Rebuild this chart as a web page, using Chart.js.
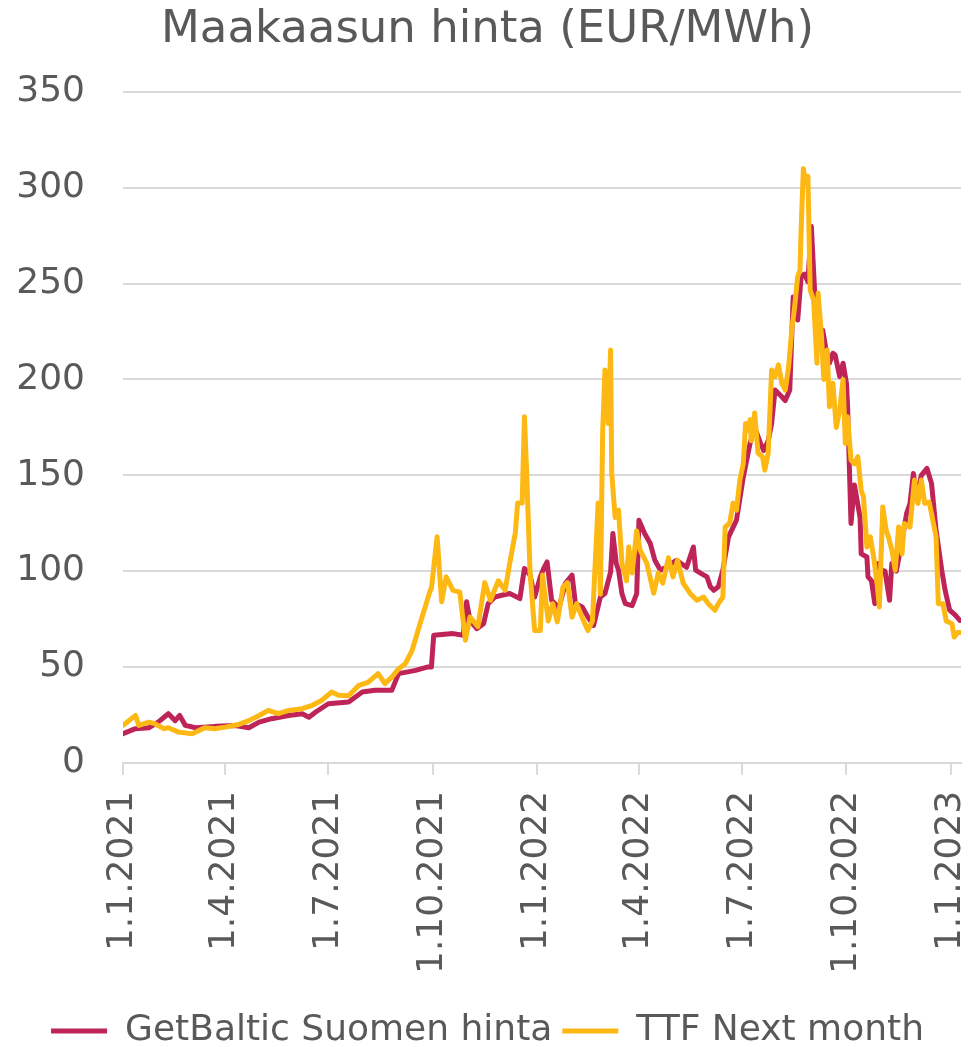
<!DOCTYPE html>
<html>
<head>
<meta charset="utf-8">
<script src="https://cdn.jsdelivr.net/npm/chart.js@4.4.0/dist/chart.umd.min.js"></script>
<style>
  html, body { margin: 0; padding: 0; background: #fff; }
  #wrap { width: 968px; height: 1047px; position: relative; }
</style>
</head>
<body>
<div id="wrap"><canvas id="chart"></canvas></div>
<script>
// x values are days since 1.1.2021
const tickDays = [0, 90, 181, 273, 365, 455, 546, 638, 730]
const tickLabels = ['1.1.2021', '1.4.2021', '1.7.2021', '1.10.2021', '1.1.2022',
  '1.4.2022', '1.7.2022', '1.10.2022', '1.1.2023']

const gbDays = [0, 11, 23, 31, 40, 46, 50, 55, 64, 81, 99, 111, 120, 131, 146, 158, 164, 170, 181, 199,
  211, 222, 237, 243, 258, 269, 272, 274, 291, 300, 303, 306, 312, 318, 322, 328, 334, 341, 350, 354,
  359, 363, 368, 371, 374, 378, 381, 384, 390, 396, 399, 405, 410, 415, 421, 425, 430, 432, 435, 437,
  440, 443, 449, 453, 455, 460, 465, 469, 474, 479, 488, 497, 503, 505, 510, 515, 518, 521, 525, 529,
  534, 541, 547, 553, 557, 562, 565, 569, 572, 575, 581, 584, 588, 591, 595, 598, 601, 604, 607, 610,
  615, 617, 620, 623, 626, 628, 632, 635, 638, 639, 642, 645, 650, 651, 656, 657, 660, 663, 666, 669,
  672, 676, 678, 682, 687, 691, 694, 697, 700, 704, 709, 713, 717, 722, 725, 729, 734, 738]
const gbPrices = [15.2, 17.8, 18.3, 21.2, 25.6, 22, 24.7, 19.5, 18.3, 19, 19.5, 18.3, 21.2, 23, 24.7, 25.6, 23.8, 26.5, 30.8, 31.7,
  36.9, 37.8, 37.8, 46.5, 48.2, 50, 50, 66.5, 67.4, 66.5, 84, 74.3, 70, 72.6, 83, 86.5, 87.4, 88.3, 85.7, 101.4,
  97.9, 86.5, 97, 101.4, 104.8, 84.8, 83, 79.6, 93.5, 97.9, 83, 81.3, 76, 71.7, 86.5, 88.3, 99.6, 119.6, 104, 100.5,
  88.3, 83, 82, 88.3, 126.6, 119.6, 114.4, 105.7, 100.5, 102, 105.7, 102, 112.6, 100.5, 98.7, 97, 91.8, 90, 91.8, 100.5,
  117.9, 126.6, 149, 166.7, 175, 167, 163, 168, 177, 194.5, 191, 189, 194.5, 243, 231, 253.7, 255, 251, 280, 245,
  224, 225.8, 215.4, 208.5, 213.7, 212.8, 201.5, 208.5, 198, 185.8, 124.9, 145, 128, 109, 107.4, 97, 95, 83, 104, 100.5,
  100, 84.8, 104, 100, 116, 130, 135.3, 151, 138.8, 150, 153.6, 145.8, 121.4, 100.5, 90, 79.6, 77, 74.3]

const ttfDays = [0, 11, 14, 23, 28, 36, 40, 49, 61, 67, 72, 81, 90, 102, 111, 120, 128, 137, 146, 158,
  167, 175, 184, 190, 199, 208, 216, 225, 231, 237, 243, 249, 255, 262, 271, 272, 277, 281, 285, 291,
  297, 302, 306, 313, 319, 324, 331, 337, 341, 346, 348, 352, 354, 356, 359, 363, 368, 370, 375, 379,
  383, 388, 392, 396, 400, 406, 410, 414, 419, 421, 423, 425, 428, 430, 431, 434, 437, 440, 444, 446,
  449, 453, 456, 462, 468, 472, 476, 481, 485, 489, 494, 500, 506, 512, 516, 522, 525, 529, 531, 535,
  538, 541, 544, 547, 549, 551, 553, 554, 557, 560, 564, 566, 569, 572, 575, 578, 581, 584, 587, 590,
  592, 595, 597, 598, 600, 602, 604, 605, 606, 609, 612, 613, 616, 618, 621, 623, 626, 629, 632, 635,
  637, 639, 642, 645, 648, 651, 653, 656, 659, 662, 665, 667, 670, 673, 675, 678, 681, 684, 687, 689,
  694, 698, 701, 704, 707, 711, 713, 717, 719, 723, 726, 731, 733, 736, 739]
const ttfPrices = [19.5, 24.7, 19.5, 21.2, 20.4, 17.8, 18.3, 16, 15.2, 16.9, 18.3, 17.8, 18.6, 20, 22, 24.7, 27.3, 25.6, 27.3, 28.2,
  30, 32.5, 36.9, 35.2, 35, 40.4, 42, 46.5, 41.3, 44.7, 49, 51.7, 58.7, 72.7, 90, 91, 117.9, 84, 97, 90,
  89, 64, 76, 71, 94, 84.8, 95, 90, 104, 120, 135.5, 135.5, 180.6, 151, 99, 69, 69, 98, 74, 83,
  73.5, 91.7, 94, 76, 83, 74.3, 69, 74, 135.5, 88, 172.7, 205, 177, 215.4, 151, 128, 131.8, 104, 95, 112.6,
  99, 121, 111, 104, 88.5, 99, 93.7, 107, 97, 105.7, 93.7, 88.5, 84.8, 86.5, 83, 79.6, 83, 86.5, 123, 125,
  135.5, 131.8, 147.5, 156, 177, 173.6, 179, 168, 182.5, 161.6, 159.7, 152.7, 161.6, 205, 201.5, 207.6, 198, 194.5, 206.7, 227.6,
  236.3, 253.7, 257, 278, 310, 302.5, 306, 276, 246.7, 241.5, 208.5, 245, 222.4, 200, 215.4, 185.8, 198, 175, 184, 200,
  166.6, 180.5, 158, 156, 159.7, 142, 138.8, 112.6, 117.9, 107.4, 93.5, 81.3, 133.5, 121.4, 117.9, 111, 100.5, 123, 109, 124.8,
  123, 147.5, 135.3, 147.5, 135.3, 136, 130, 117.9, 83, 83, 74, 72.6, 65.6, 68, 68]

const seriesNames = ['GetBaltic Suomen hinta', 'TTF Next month']
const seriesColors = ['#be2457', '#fdb813']

const toPoints = (days, prices) => days.map((d, i) => ({ x: d, y: prices[i] }))

const textColor = '#595959'
const gridColor = '#d9d9d9'
const fontFamily = "'DejaVu Sans', Verdana, sans-serif"

new Chart(document.getElementById('chart'), {
  type: 'line',
  data: {
    datasets: [
      {
        label: seriesNames[0],
        data: toPoints(gbDays, gbPrices),
        borderColor: seriesColors[0],
        backgroundColor: seriesColors[0],
        borderWidth: 5,
        order: 1
      },
      {
        label: seriesNames[1],
        data: toPoints(ttfDays, ttfPrices),
        borderColor: seriesColors[1],
        backgroundColor: seriesColors[1],
        borderWidth: 5,
        order: 0
      }
    ]
  },
  options: {
    responsive: true,
    maintainAspectRatio: false,
    animation: false,
    events: [],
    elements: {
      line: { tension: 0, borderJoinStyle: 'round', borderCapStyle: 'round' },
      point: { radius: 0 }
    },
    layout: { padding: { left: 14, right: 7, top: 3, bottom: -12 } },
    scales: {
      x: {
        type: 'linear',
        min: 0,
        max: 739,
        afterBuildTicks: (scale) => {
          scale.ticks = tickDays.map(v => ({ value: v }))
        },
        afterFit: (scale) => {
          scale.paddingLeft = 0
          scale.paddingRight = 0
          scale.height += 13
        },
        ticks: {
          autoSkip: false,
          maxRotation: 90,
          minRotation: 90,
          padding: 16,
          color: textColor,
          font: { family: fontFamily, size: 36 },
          callback: (value, index) => tickLabels[index]
        },
        grid: {
          drawOnChartArea: false,
          drawTicks: true,
          tickLength: 12,
          color: gridColor,
          lineWidth: 2
        },
        border: { color: gridColor, width: 2 }
      },
      y: {
        min: 0,
        max: 350,
        afterFit: (scale) => {
          scale.width = 109
        },
        ticks: {
          stepSize: 50,
          padding: 38,
          color: textColor,
          font: { family: fontFamily, size: 36 }
        },
        grid: { color: gridColor, lineWidth: 2, drawTicks: false },
        border: { display: false }
      }
    },
    plugins: {
      title: {
        display: true,
        text: 'Maakaasun hinta (EUR/MWh)',
        color: textColor,
        font: { family: fontFamily, size: 45, weight: 'normal' },
        padding: { top: 0, bottom: 35 }
      },
      legend: {
        position: 'bottom',
        labels: {
          usePointStyle: true,
          pointStyle: 'line',
          pointStyleWidth: 56,
          padding: 10,
          color: textColor,
          font: { family: fontFamily, size: 36 },
          sort: (a, b) => a.datasetIndex - b.datasetIndex
        }
      },
      tooltip: { enabled: false }
    }
  }
})
</script>
</body>
</html>
